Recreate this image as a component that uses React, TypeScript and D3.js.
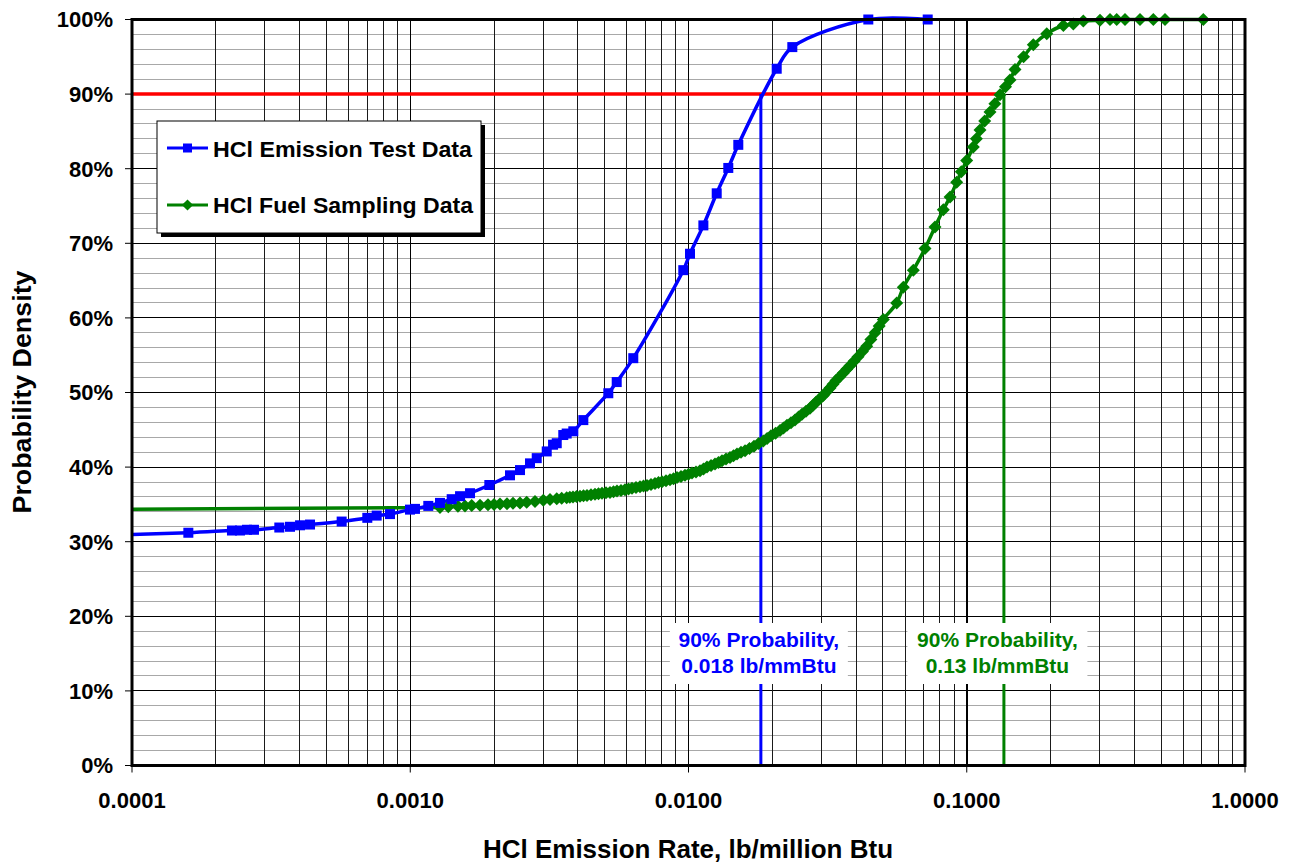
import React from "react";
import * as d3 from "d3";

// HCl emission test data (lb/million Btu, cumulative %)
const emissionRate = [
  0.00005, 0.0001594, 0.0002287, 0.0002444, 0.000259, 0.0002744, 0.0003384,
  0.0003697, 0.0004017, 0.0004363, 0.0005669, 0.0007009, 0.0007575, 0.0008457,
  0.000998, 0.00104, 0.001161, 0.001279, 0.001409, 0.00151, 0.00164, 0.001924,
  0.002283, 0.00248, 0.002694, 0.002848, 0.003094, 0.00326, 0.003361, 0.003548,
  0.003649, 0.003855, 0.004188, 0.00515, 0.005521, 0.006332, 0.009579, 0.010125,
  0.01131, 0.01263, 0.0139, 0.0151, 0.02075, 0.02361, 0.04428, 0.07239,
];
const emissionProb = [
  30.7, 31.2, 31.5, 31.5, 31.6, 31.6, 31.9, 32.0, 32.2, 32.3, 32.7, 33.2, 33.5,
  33.7, 34.3, 34.4, 34.8, 35.2, 35.7, 36.1, 36.5, 37.6, 38.9, 39.6, 40.5, 41.2,
  42.1, 43.0, 43.2, 44.3, 44.5, 44.8, 46.3, 49.9, 51.4, 54.6, 66.4, 68.6, 72.4,
  76.7, 80.1, 83.2, 93.4, 96.3, 100.0, 100.0,
];

// HCl fuel sampling data (lb/million Btu, cumulative %)
const fuelRate = [
  0.000001, 0.001279, 0.00137, 0.001484, 0.001573, 0.001663, 0.001781, 0.001903,
  0.002, 0.002102, 0.002227, 0.00234, 0.00248, 0.002621, 0.002808, 0.003008,
  0.003178, 0.003361, 0.003502, 0.003649, 0.003746, 0.003845, 0.003958,
  0.004074, 0.004194, 0.004317, 0.004463, 0.004613, 0.004749, 0.004888,
  0.005053, 0.005223, 0.005376, 0.005534, 0.005721, 0.005914, 0.006088,
  0.006266, 0.006477, 0.006695, 0.006892, 0.007095, 0.007333, 0.007578,
  0.007801, 0.00803, 0.008301, 0.008581, 0.008833, 0.009093, 0.009398,
  0.009714, 0.01, 0.010294, 0.01064, 0.010999, 0.01132, 0.011655, 0.01205,
  0.012453, 0.01282, 0.013195, 0.01364, 0.014097, 0.01451, 0.014938, 0.01544,
  0.015966, 0.01657, 0.017194, 0.01787, 0.01857, 0.01917, 0.019793, 0.02055,
  0.021327, 0.02195, 0.022594, 0.02336, 0.024146, 0.02486, 0.025584, 0.02644,
  0.027331, 0.02802, 0.028725, 0.02961, 0.030513, 0.03137, 0.032253, 0.03306,
  0.033895, 0.03494, 0.03601, 0.03702, 0.038057, 0.03934, 0.04067, 0.04216,
  0.0437, 0.04523, 0.04681, 0.04844, 0.05013, 0.05601, 0.05916, 0.06427,
  0.07079, 0.0769, 0.08237, 0.08709, 0.09203, 0.0956, 0.09995, 0.10557, 0.1083,
  0.1116, 0.116, 0.12122, 0.1262, 0.1317, 0.1378, 0.14303, 0.14908, 0.16,
  0.1735, 0.19387, 0.22244, 0.24155, 0.2624, 0.30128, 0.3272, 0.34586, 0.37048,
  0.41948, 0.46826, 0.5158, 0.7081,
];
const fuelProb = [
  34.1, 34.6, 34.7, 34.75, 34.8, 34.85, 34.9, 34.95, 35.0, 35.05, 35.1, 35.15,
  35.2, 35.3, 35.4, 35.55, 35.65, 35.75, 35.82, 35.9, 35.95, 36.0, 36.05, 36.1,
  36.15, 36.2, 36.28, 36.35, 36.42, 36.5, 36.55, 36.6, 36.7, 36.8, 36.88, 36.95,
  37.05, 37.15, 37.25, 37.35, 37.45, 37.55, 37.68, 37.8, 37.92, 38.05, 38.18,
  38.3, 38.45, 38.6, 38.75, 38.9, 39.05, 39.2, 39.35, 39.5, 39.75, 40.0, 40.2,
  40.4, 40.62, 40.85, 41.08, 41.3, 41.52, 41.75, 41.98, 42.2, 42.5, 42.8, 43.15,
  43.5, 43.85, 44.2, 44.55, 44.9, 45.25, 45.6, 45.95, 46.3, 46.7, 47.1, 47.5,
  47.9, 48.3, 48.7, 49.15, 49.6, 50.1, 50.6, 51.1, 51.6, 52.1, 52.6, 53.1, 53.6,
  54.2, 54.8, 55.5, 56.2, 57.1, 58.0, 58.9, 59.8, 62.0, 64.1, 66.4, 69.3, 72.2,
  74.5, 76.2, 78.2, 79.6, 81.1, 82.9, 84.0, 85.2, 86.4, 87.6, 88.7, 89.9, 91.0,
  91.9, 93.3, 95.0, 96.6, 98.1, 99.2, 99.4, 99.8, 99.9, 100, 100, 100, 100, 100,
  100, 100,
];

// 90% probability levels
const probLevel = 90;
const emissionP90 = 0.0182;
const fuelP90 = 0.136;

const xTicks = [0.0001, 0.001, 0.01, 0.1, 1];
const xTickLabels = ["0.0001", "0.0010", "0.0100", "0.1000", "1.0000"];
const yTicks = [0, 10, 20, 30, 40, 50, 60, 70, 80, 90, 100];
const yTickLabels = yTicks.map((d) => `${d}%`);

const FONT = "'Liberation Sans', Arial, sans-serif";
const BLUE = "#0000ff";
const GREEN = "#008000";

type Pt = { x: number; y: number };

const App = () => {
  const width = 1292;
  const height = 863;
  const plot = { left: 132, right: 1245, top: 19.5, bottom: 765.5 };

  // scales
  const x = d3.scaleLog().domain([0.0001, 1]).range([plot.left, plot.right]);
  const y = d3.scaleLinear().domain([0, 100]).range([plot.bottom, plot.top]);

  const emission: Pt[] = emissionRate.map((d, i) => ({ x: d, y: emissionProb[i] }));
  const fuel: Pt[] = fuelRate.map((d, i) => ({ x: d, y: fuelProb[i] }));

  const line = d3
    .line<Pt>()
    .x((d) => x(d.x))
    .y((d) => y(d.y))
    .curve(d3.curveCatmullRom.alpha(0.5));

  const inside = (d: Pt) => d.x >= 0.0001 && d.x <= 1;

  // minor grid values
  const minorX: number[] = [];
  for (let e = -4; e < 0; e++) {
    for (let k = 2; k <= 9; k++) minorX.push(k * Math.pow(10, e));
  }
  const minorY = d3.range(2, 100, 2).filter((d) => d % 10 !== 0);

  const diamond = (cx: number, cy: number, r = 6.5) =>
    `M${cx},${cy - r}L${cx + r},${cy}L${cx},${cy + r}L${cx - r},${cy}Z`;

  const labels = [
    { value: emissionP90, color: BLUE, dx: -2, w: 178, text: ["90% Probability,", "0.018 lb/mmBtu"] },
    { value: fuelP90, color: GREEN, dx: -6.5, w: 180, text: ["90% Probability,", "0.13 lb/mmBtu"] },
  ];

  return (
    <svg
      width={width}
      height={height}
      style={{ position: "absolute", left: 0, top: 0, background: "#fff" }}
      fontFamily={FONT}
      fontWeight="bold"
    >
      <defs>
        <clipPath id="plot-clip">
          <rect x={plot.left} y={plot.top - 8} width={plot.right - plot.left} height={plot.bottom - plot.top + 16} />
        </clipPath>
      </defs>

      {/* grid */}
      <g shapeRendering="crispEdges">
        {minorY.map((d) => (
          <line key={`hy${d}`} x1={plot.left} x2={plot.right} y1={y(d)} y2={y(d)} stroke="#a8a8a8" strokeWidth={1} />
        ))}
        {yTicks.map((d) => (
          <line key={`HY${d}`} x1={plot.left} x2={plot.right} y1={y(d)} y2={y(d)} stroke="#000" strokeWidth={1} />
        ))}
        {minorX.map((d) => (
          <line key={`vx${d}`} x1={x(d)} x2={x(d)} y1={plot.top} y2={plot.bottom} stroke="#1a1a1a" strokeWidth={1} />
        ))}
        {xTicks.map((d) => (
          <line key={`VX${d}`} x1={x(d)} x2={x(d)} y1={plot.top} y2={plot.bottom} stroke="#000" strokeWidth={1.5} />
        ))}
      </g>

      {/* 90% guides */}
      <line x1={x(0.0001)} x2={x(fuelP90)} y1={y(probLevel)} y2={y(probLevel)} stroke="#ff0000" strokeWidth={3.5} />
      <line x1={x(emissionP90)} x2={x(emissionP90)} y1={y(probLevel)} y2={y(0)} stroke={BLUE} strokeWidth={3} />
      <line x1={x(fuelP90)} x2={x(fuelP90)} y1={y(probLevel)} y2={y(0)} stroke={GREEN} strokeWidth={3} />

      {/* series */}
      <g clipPath="url(#plot-clip)">
        <path d={line(fuel) || ""} fill="none" stroke={GREEN} strokeWidth={3.5} />
        <path d={line(emission) || ""} fill="none" stroke={BLUE} strokeWidth={3.5} />
      </g>
      <g fill={GREEN}>
        {fuel.filter(inside).map((d, i) => (
          <path key={`f${i}`} d={diamond(x(d.x), y(d.y))} />
        ))}
      </g>
      <g fill={BLUE}>
        {emission.filter(inside).map((d, i) => (
          <rect key={`e${i}`} x={x(d.x) - 5} y={y(d.y) - 5} width={10} height={10} />
        ))}
      </g>

      {/* annotation labels */}
      {labels.map((l) => {
        const cx = x(l.value) + l.dx;
        return (
          <g key={l.text[1]}>
            <rect x={cx - l.w / 2} y={623} width={l.w} height={61} fill="#fff" />
            <text x={cx} y={647} textAnchor="middle" fontSize={21} fill={l.color}>
              {l.text[0]}
            </text>
            <text x={cx} y={673} textAnchor="middle" fontSize={21} fill={l.color}>
              {l.text[1]}
            </text>
          </g>
        );
      })}

      {/* plot border */}
      <rect
        x={plot.left}
        y={plot.top}
        width={plot.right - plot.left}
        height={plot.bottom - plot.top}
        fill="none"
        stroke="#000"
        strokeWidth={3}
      />

      {/* y axis */}
      <g>
        {yTicks.map((d, i) => (
          <g key={`yt${d}`}>
            <line x1={plot.left - 7} x2={plot.left} y1={y(d)} y2={y(d)} stroke="#000" strokeWidth={1} />
            <text x={113} y={y(d)} dy="0.36em" textAnchor="end" fontSize={22}>
              {yTickLabels[i]}
            </text>
          </g>
        ))}
      </g>

      {/* x axis */}
      <g>
        {xTicks.map((d, i) => (
          <g key={`xt${d}`}>
            <line x1={x(d)} x2={x(d)} y1={plot.bottom} y2={plot.bottom + 7} stroke="#000" strokeWidth={1} />
            <text x={x(d)} y={808} textAnchor="middle" fontSize={22}>
              {xTickLabels[i]}
            </text>
          </g>
        ))}
      </g>

      {/* axis titles */}
      <text
        transform="translate(31,392) rotate(-90)"
        textAnchor="middle"
        fontSize={25}
        textLength={243}
        lengthAdjust="spacingAndGlyphs"
      >
        Probability Density
      </text>
      <text x={688} y={858} textAnchor="middle" fontSize={25} textLength={410} lengthAdjust="spacingAndGlyphs">
        HCl Emission Rate, lb/million Btu
      </text>

      {/* legend */}
      <g>
        <rect x={161} y={125} width={324} height={112} fill="#000" />
        <rect x={157} y={121} width={324} height={112} fill="#fff" stroke="#000" strokeWidth={1} />
        <line x1={167} x2={208} y1={148} y2={148} stroke={BLUE} strokeWidth={3} />
        <rect x={183} y={143.5} width={9} height={9} fill={BLUE} />
        <text x={213} y={156.5} fontSize={22} textLength={259} lengthAdjust="spacingAndGlyphs">
          HCl Emission Test Data
        </text>
        <line x1={167} x2={208} y1={205} y2={205} stroke={GREEN} strokeWidth={3} />
        <path d={diamond(187.5, 205, 5.6)} fill={GREEN} />
        <text x={213} y={213} fontSize={22} textLength={260} lengthAdjust="spacingAndGlyphs">
          HCl Fuel Sampling Data
        </text>
      </g>
    </svg>
  );
};

export default App;
